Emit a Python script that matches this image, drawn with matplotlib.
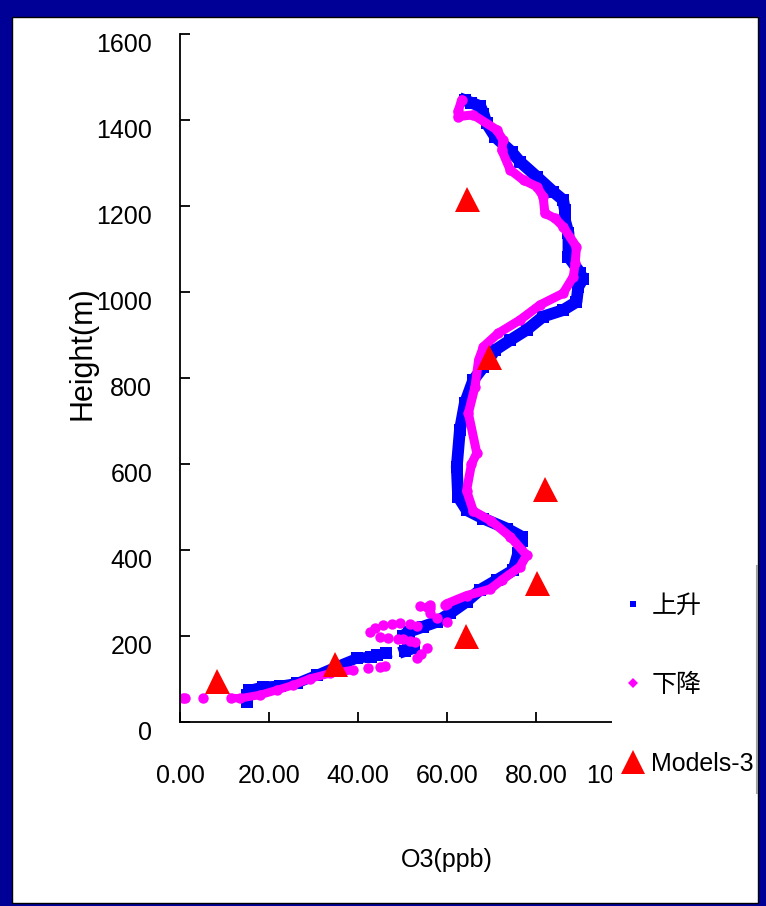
import matplotlib.pyplot as plt
from matplotlib.patches import Rectangle
from matplotlib.lines import Line2D
from matplotlib.transforms import ScaledTranslation

plt.rcParams['font.family'] = ['Liberation Sans', 'Noto Sans CJK SC']

# ascending profile (上升): O3 (ppb) and height (m)
up_low_o3 = [15.0, 15.0, 15.5, 18.7, 22.5, 26.2, 30.7, 35.2, 39.7, 43.0, 44.2, 46.4]
up_low_h = [47, 62, 74, 82, 84, 90, 109, 129, 148, 152, 156, 160]
up_o3 = [50.5, 52.5, 51.3, 50.0, 51.5, 54.7, 57.7, 60.7, 64.4, 67.4, 71.2, 74.9,
         76.0, 76.8, 76.8, 73.4, 68.2, 64.4, 62.5, 62.2, 62.9, 64.0, 65.9, 68.2,
         70.8, 74.2, 77.9, 81.6, 86.1, 89.1, 89.5, 90.5, 89.9, 87.3, 87.3, 86.5,
         86.5, 86.1, 83.9, 80.2, 76.4, 74.5, 70.8, 68.9, 68.2, 67.5, 65.5, 64.0]
up_h = [165, 172, 185, 200, 210, 222, 233, 253, 280, 307, 330, 353,
        392, 420, 431, 450, 473, 493, 524, 594, 679, 741, 795, 826,
        865, 888, 912, 943, 958, 977, 1012, 1030, 1045, 1082, 1137, 1167,
        1190, 1214, 1233, 1268, 1303, 1326, 1361, 1392, 1415, 1432, 1440, 1446]

# descending profile (下降)
down_o3 = [63.3, 62.5, 62.5, 65.9, 71.2, 72.6, 72.3, 74.2, 77.2, 80.2, 81.6,
           82.0, 84.3, 86.1, 89.1, 88.8, 88.4, 86.1, 80.9, 76.4, 71.5, 68.2,
           67.1, 66.3, 64.8, 66.7, 65.5, 64.4, 65.9, 70.0, 74.2, 77.9, 76.4,
           72.3, 69.7, 64.4, 59.9]
down_h = [1447, 1420, 1408, 1412, 1377, 1353, 1330, 1284, 1260, 1245, 1222,
          1183, 1171, 1152, 1105, 1067, 1036, 997, 970, 935, 904, 873,
          842, 780, 718, 625, 600, 538, 491, 467, 431, 388, 361,
          330, 309, 294, 275]
down_low_o3 = [38.9, 33.7, 29.2, 25.5, 21.7, 18.0, 13.5, 11.5]
down_low_h = [121, 113, 101, 86, 74, 63, 55, 56]
down_pts_o3 = [59.6, 56.2, 54.0, 55.4, 56.2, 56.2, 57.7, 59.9, 49.4, 51.7, 53.2,
               42.7, 43.8, 45.7, 47.6, 44.9, 46.8, 49.1, 50.2, 51.7, 52.8,
               55.4, 54.2, 53.2, 42.3, 44.9, 46.0, 5.2, 0.7, 1.2]
down_pts_h = [272, 272, 270, 268, 264, 253, 241, 233, 230, 228, 224,
              210, 218, 225, 228, 198, 195, 194, 194, 189, 185,
              171, 159, 149, 125, 129, 131, 55, 55, 56]

# Models-3 simulation
model_o3 = [8.4, 34.9, 64.3, 80.3, 82.0, 69.4, 64.4]
model_h = [96, 134, 200, 324, 541, 850, 1216]

x_ticks = [0, 20, 40, 60, 80, 100]
y_ticks = [0, 200, 400, 600, 800, 1000, 1200, 1400, 1600]

W, H = 766, 906
fig = plt.figure(figsize=(W / 100, H / 100), dpi=100)
fig.patch.set_facecolor('#000096')
fig.add_artist(Rectangle((12 / W, 3 / H), 746 / W, 886 / H, transform=fig.transFigure,
                         facecolor='white', edgecolor='black', lw=1, zorder=-1))

ax = fig.add_axes([180 / W, 1 - 722 / H, 445 / W, 688 / H])
ax.set_facecolor('none')

blue = '#0000ff'
pink = '#ff00ff'
ax.plot(up_low_o3, up_low_h, color=blue, marker='s', ms=9, lw=7.5, mew=0)
ax.plot(up_o3, up_h, color=blue, marker='s', ms=9, lw=8.5, mew=0, solid_joinstyle='round')
ax.plot(down_o3, down_h, color=pink, marker='o', ms=7.5, lw=6.5, mew=0,
        solid_joinstyle='round', solid_capstyle='round')
ax.plot(down_low_o3, down_low_h, color=pink, marker='o', ms=7.5, lw=6, mew=0,
        solid_capstyle='round')
ax.plot(down_pts_o3, down_pts_h, color=pink, marker='o', ms=7.5, ls='none', mew=0)
ax.plot(model_o3, model_h, color='red', marker='^', ms=18, ls='none', mew=0)

ax.set_xlim(0, 100)
ax.set_ylim(0, 1600)
ax.set_xticks(x_ticks)
ax.set_xticklabels([f'{v:.2f}' for v in x_ticks])
ax.set_yticks(y_ticks)
for s in ['top', 'right']:
    ax.spines[s].set_visible(False)
for s in ['left', 'bottom']:
    ax.spines[s].set_linewidth(1.3)
ax.tick_params(axis='both', direction='in', length=7, width=1.3, labelsize=18)
ax.tick_params(axis='x', pad=30)
ax.tick_params(axis='y', pad=20)
# the height labels sit a little below their ticks in the original
shift = ScaledTranslation(0, -9 / 100, fig.dpi_scale_trans)
for lbl in ax.get_yticklabels():
    lbl.set_transform(lbl.get_transform() + shift)

fig.text(82 / W, 1 - 353 / H, 'Height(m)', rotation=90, ha='center', va='center', fontsize=22)
fig.text(447 / W, 1 - 860 / H, 'O3(ppb)', ha='center', va='center', fontsize=18)

# white legend box that hides the right end of the x axis
ax.add_patch(Rectangle((612 / W, 1 - 793 / H), 146 / W, 227 / H, transform=fig.transFigure,
                       facecolor='white', edgecolor='none', zorder=4, clip_on=False))
fig.add_artist(Line2D([757 / W, 757 / W], [1 - 566 / H, 1 - 793 / H], color='#a0a0a0', lw=1.5))

handles = [Line2D([], [], color=blue, marker='s', ms=5, ls='none', mew=0),
           Line2D([], [], color=pink, marker='D', ms=5, ls='none', mew=0),
           Line2D([], [], color='red', marker='^', ms=17, ls='none', mew=0)]
ax.legend(handles, ['上升', '下降', 'Models-3'], loc='upper left',
          bbox_to_anchor=(620 / W, 1 - 594 / H), bbox_transform=fig.transFigure,
          frameon=False, fontsize=18, handlelength=1, handletextpad=0.25,
          labelspacing=2.2, borderpad=0, borderaxespad=0)

fig.savefig('out.png', dpi=100, facecolor=fig.get_facecolor())
